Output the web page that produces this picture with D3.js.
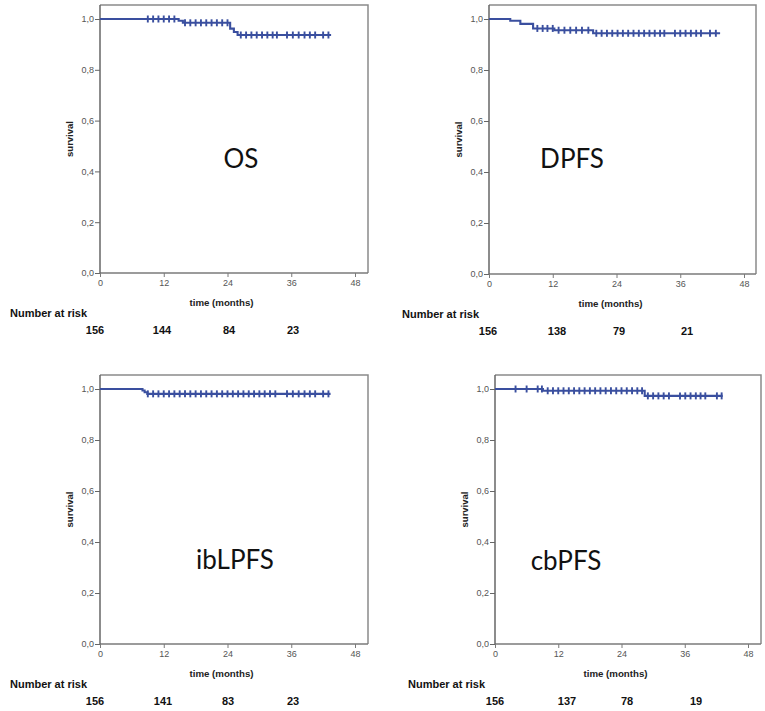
<!DOCTYPE html>
<html>
<head>
<meta charset="utf-8">
<script src="https://cdn.jsdelivr.net/npm/d3@7/dist/d3.min.js"></script>
<style>
  html, body { margin: 0; padding: 0; background: #fff; }
  svg { display: block; }
</style>
</head>
<body>
<svg id="chart" width="765" height="711"></svg>
<script>
// ---------- data ----------
const monthTicks = [0, 12, 24, 36, 48];
const survTicks = [0, 0.2, 0.4, 0.6, 0.8, 1.0];
const panelNames = ["OS", "DPFS", "ibLPFS", "cbPFS"];
const xAxisTitle = "time (months)";
const yAxisTitle = "survival";
const atRiskTitle = "Number at risk";

// OS
const osStepTimes = [0, 14.8, 15.6, 24.5, 25.2, 25.9];
const osStepSurv  = [1.0, 0.993, 0.985, 0.962, 0.949, 0.937];
const osCensor = [9, 10, 11, 12, 13, 14, 16, 17, 18, 19, 20, 21, 22, 23, 24,
                  26.5, 27.5, 28.5, 29.5, 30.5, 31.5, 32.5, 33.3,
                  35.2, 36.3, 37.4, 38.5, 39.5, 40.5, 42, 43];
const osEnd = 43.5;
const osAtRisk = [156, 144, 84, 23];

// DPFS
const dpStepTimes = [0, 4.0, 5.9, 8.3, 12.3, 19.6];
const dpStepSurv  = [1.0, 0.993, 0.981, 0.963, 0.956, 0.944];
const dpCensor = [9.1, 10.1, 11, 12, 13.1, 14.2, 15.3, 16.4, 17.5, 18.7,
                  20.2, 21.2, 22.2, 23.2, 24.2, 25.2, 26.2, 27.2, 28.2, 29.2, 30.2, 31.2, 32.2, 33,
                  35, 36, 37, 38, 39, 39.9, 41.6, 42.7];
const dpEnd = 43.5;
const dpAtRisk = [156, 138, 79, 21];

// ibLPFS
const ibStepTimes = [0, 8.0, 8.4, 8.9];
const ibStepSurv  = [1.0, 0.994, 0.987, 0.981];
const ibCensor = [9, 10, 11, 12, 13, 14, 15, 16, 17, 18, 19, 20, 21, 22, 23, 24,
                  25, 26, 27, 28, 29, 30, 31, 32, 33,
                  35.2, 36.3, 37.4, 38.5, 39.5, 40.5, 42, 43];
const ibEnd = 43.4;
const ibAtRisk = [156, 141, 83, 23];

// cbPFS
const cbStepTimes = [0, 9.1, 28.4];
const cbStepSurv  = [1.0, 0.993, 0.973];
const cbCensor = [3.9, 6.0, 8.1, 8.9,
                  10, 11, 12, 13, 14, 15, 16, 17, 18, 19, 20, 21, 22, 23, 24, 25, 26, 27, 27.9,
                  29, 30, 31, 32, 33,
                  35.1, 36.1, 37.1, 38.1, 39, 39.9, 42.1, 43];
const cbEnd = 43.2;
const cbAtRisk = [156, 137, 78, 19];

// ---------- layout ----------
const layouts = [
  { x0: 100, x48: 355, right: 368, top: 5,   y1: 19,  y0: 273, labelX: 241, labelY: 168,
    riskDx: [-5, 62, 129, 193], riskTitleX: 10 },
  { x0: 489, x48: 744, right: 756, top: 5,   y1: 19,  y0: 274, labelX: 572, labelY: 168,
    riskDx: [-1, 68, 130, 198], riskTitleX: 402 },
  { x0: 100, x48: 355, right: 368, top: 375, y1: 389, y0: 644, labelX: 235, labelY: 569,
    riskDx: [-5, 63, 128, 193], riskTitleX: 10 },
  { x0: 495, x48: 748, right: 761, top: 375, y1: 389, y0: 644, labelX: 566, labelY: 570,
    riskDx: [0, 72, 132, 201], riskTitleX: 408 }
];

const series = [
  { times: osStepTimes, surv: osStepSurv, censor: osCensor, end: osEnd, risk: osAtRisk },
  { times: dpStepTimes, surv: dpStepSurv, censor: dpCensor, end: dpEnd, risk: dpAtRisk },
  { times: ibStepTimes, surv: ibStepSurv, censor: ibCensor, end: ibEnd, risk: ibAtRisk },
  { times: cbStepTimes, surv: cbStepSurv, censor: cbCensor, end: cbEnd, risk: cbAtRisk }
];

const lineColor = "#3a4f9f";
const svg = d3.select("#chart");
const fmtY = v => d3.format(".1f")(v).replace(".", ",");

series.forEach((s, i) => {
  const L = layouts[i];
  const x = d3.scaleLinear().domain([0, 48]).range([L.x0, L.x48]);
  const y = d3.scaleLinear().domain([0, 1]).range([L.y0, L.y1]);
  const g = svg.append("g");

  // frame (top & right)
  g.append("path")
    .attr("d", `M${L.x0},${L.top}H${L.right}V${L.y0}`)
    .attr("fill", "none").attr("stroke", "#8a8a8a").attr("stroke-width", 1.5);

  // x axis
  const xAxis = g.append("g").attr("transform", `translate(0,${L.y0})`)
    .call(d3.axisBottom(x).tickValues(monthTicks).tickSize(4).tickSizeOuter(0).tickPadding(3));
  xAxis.select(".domain").attr("d", `M${L.x0},0H${L.right}`).attr("stroke", "#7a7a7a").attr("stroke-width", 1.5);
  xAxis.selectAll(".tick line").attr("stroke", "#7a7a7a");
  xAxis.selectAll(".tick text").attr("fill", "#555").style("font-family", "'Liberation Sans', Arial, sans-serif").style("font-size", "9px");

  // y axis
  const yAxis = g.append("g").attr("transform", `translate(${L.x0},0)`)
    .call(d3.axisLeft(y).tickValues(survTicks).tickFormat(fmtY).tickSize(5).tickSizeOuter(0).tickPadding(1));
  yAxis.select(".domain").attr("d", `M0,${L.top}V${L.y0}`).attr("stroke", "#666").attr("stroke-width", 1.5);
  yAxis.selectAll(".tick line").attr("stroke", "#666");
  yAxis.selectAll(".tick text").attr("fill", "#555").style("font-family", "'Liberation Sans', Arial, sans-serif").style("font-size", "9px");

  // axis titles
  g.append("text")
    .attr("x", (L.x0 + L.x48) / 2 - 6).attr("y", L.y0 + 33)
    .attr("text-anchor", "middle")
    .style("font-family", "'Liberation Sans', Arial, sans-serif").style("font-size", "9.7px").style("font-weight", "bold")
    .attr("fill", "#222")
    .text(xAxisTitle);
  g.append("text")
    .attr("transform", `translate(${L.x0 - 27},${(L.y0 + L.y1) / 2 - 7}) rotate(-90)`)
    .attr("text-anchor", "middle")
    .style("font-family", "'Liberation Sans', Arial, sans-serif").style("font-size", "9.5px").style("font-weight", "bold")
    .attr("fill", "#222")
    .text(yAxisTitle);

  // KM step curve
  const pts = s.times.map((t, k) => [t, s.surv[k]]);
  pts.push([s.end, s.surv[s.surv.length - 1]]);
  const line = d3.line().x(d => x(d[0])).y(d => y(d[1])).curve(d3.curveStepAfter);
  g.append("path").attr("d", line(pts))
    .attr("fill", "none").attr("stroke", lineColor).attr("stroke-width", 2.1);

  // censor marks
  const survAt = t => {
    let v = s.surv[0];
    s.times.forEach((tt, k) => { if (tt <= t) v = s.surv[k]; });
    return v;
  };
  g.selectAll(".cens").data(s.censor).join("line")
    .attr("x1", d => x(d)).attr("x2", d => x(d))
    .attr("y1", d => y(survAt(d)) - 3.5).attr("y2", d => y(survAt(d)) + 3.5)
    .attr("stroke", lineColor).attr("stroke-width", 1.9);

  // panel label
  g.append("text")
    .attr("x", L.labelX).attr("y", L.labelY)
    .attr("text-anchor", "middle")
    .style("font-family", "Lato, 'Open Sans', sans-serif").style("font-size", "26px")
    .attr("fill", "#111")
    .text(panelNames[i]);

  // number at risk
  g.append("text")
    .attr("x", L.riskTitleX).attr("y", L.y0 + 44)
    .style("font-family", "'Liberation Sans', Arial, sans-serif").style("font-size", "11px").style("font-weight", "bold")
    .attr("fill", "#111")
    .text(atRiskTitle);
  g.selectAll(".risk").data(s.risk).join("text")
    .attr("x", (d, k) => L.x0 + L.riskDx[k]).attr("y", L.y0 + 61)
    .attr("text-anchor", "middle")
    .style("font-family", "'Liberation Sans', Arial, sans-serif").style("font-size", "11px").style("font-weight", "bold")
    .attr("fill", "#111")
    .text(d => d);
});
</script>
</body>
</html>
